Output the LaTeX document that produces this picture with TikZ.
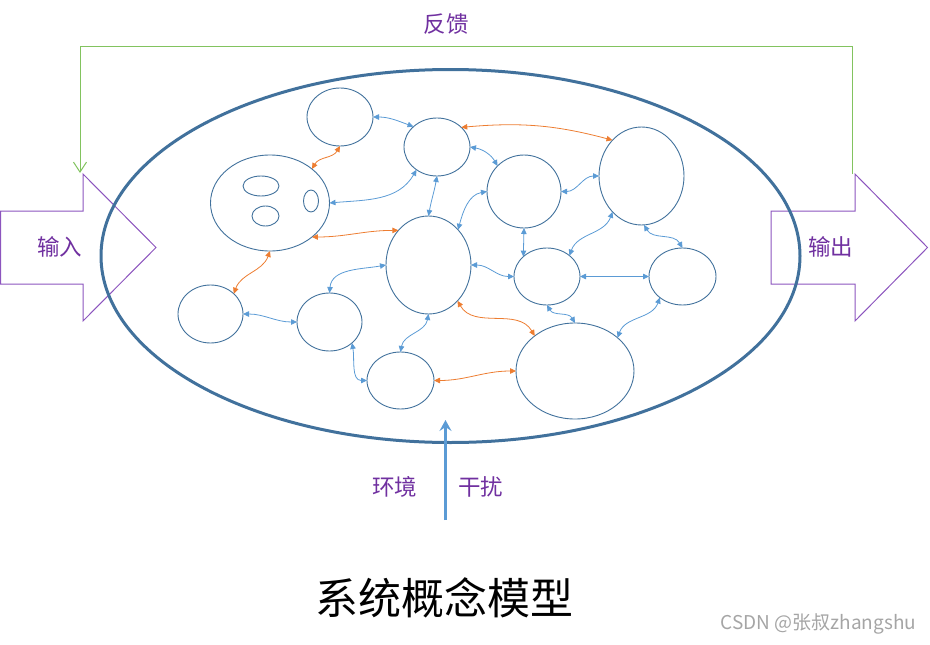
\documentclass[tikz,border=0pt]{standalone}
\usepackage{fontspec}
\newfontfamily\cjk{Noto Sans CJK SC}
\usetikzlibrary{shapes.geometric,arrows.meta}
\definecolor{bord}{RGB}{65,113,156}
\definecolor{cblue}{RGB}{91,155,213}
\definecolor{corange}{RGB}{237,125,49}
\definecolor{lblpurple}{RGB}{112,48,160}
\definecolor{arrpurple}{RGB}{140,85,190}
\definecolor{fbgreen}{RGB}{130,195,95}
\definecolor{wmgray}{RGB}{165,165,165}
\begin{document}
\begin{tikzpicture}[x=1pt,y=-1pt,
  circ/.style={ellipse,draw=bord,line width=0.9pt,inner sep=0pt,outer sep=0pt},
  lnkb/.style={draw=cblue,line width=0.8pt,{Triangle[length=6pt,width=5.5pt]}-{Triangle[length=6pt,width=5.5pt]}},
  lnko/.style={draw=corange,line width=0.8pt,{Triangle[length=6pt,width=5.5pt]}-{Triangle[length=6pt,width=5.5pt]}},
  lbl/.style={font=\cjk\fontsize{22.5}{22.5}\selectfont,text=lblpurple,inner sep=0pt},
  blockarrow/.style={draw=arrpurple,line width=1pt,line join=miter},
]
\useasboundingbox (0,0) rectangle (930,645);
% block arrows
\draw[blockarrow] (0.6,211) -- (83,211) -- (83,174) -- (156,247.5) -- (83,321) -- (83,284) -- (0.6,284) -- cycle;
\draw[blockarrow] (771,211) -- (855,211) -- (855,174) -- (927.5,247.5) -- (855,321) -- (855,284) -- (771,284) -- cycle;
% system boundary
\node[ellipse,draw=bord,line width=3pt,minimum width=699pt,minimum height=373pt,inner sep=0pt] (sys) at (450.5,256) {};
% feedback
\coordinate (fbS) at (852,174);
\coordinate (fbE) at (80,173);
\draw[fbgreen,line width=1pt,-{Straight Barb[length=10pt,width=13pt]}] (fbS) -- ++(0,-128) -| (fbE);
% labels
\node[lbl] (fbl) at (446,24) {反馈};
\node[lbl] (inl) at (59.5,247) {输入};
\node[lbl] (outl) at (830.5,247) {输出};
\node[lbl] (envl) at (394.5,487) {环境};
\node[lbl] (disl) at (480.5,487) {干扰};
% environment arrow
\coordinate (envS) at (445.5,520);
\coordinate (envE) at (445.5,420);
\draw[cblue,line width=2.5pt,-{Stealth[length=11pt,width=12pt,inset=4pt]}] (envS) -- (envE);
% elements
\node[circ,minimum width=66pt,minimum height=58pt] (A) at (340,117) {};
\node[circ,minimum width=66pt,minimum height=58pt] (B) at (437,147) {};
\node[circ,minimum width=119pt,minimum height=96pt] (C) at (270,203) {};
\node[circ,minimum width=36pt,minimum height=20pt] (c1) at (261,186) {};
\node[circ,minimum width=27pt,minimum height=20pt] (c2) at (265.5,216) {};
\node[circ,minimum width=15pt,minimum height=22pt] (c3) at (311,201) {};
\node[circ,minimum width=85pt,minimum height=98pt] (D) at (428.5,265) {};
\node[circ,minimum width=74pt,minimum height=73pt] (E) at (524,191.5) {};
\node[circ,minimum width=85pt,minimum height=98pt] (F) at (641.5,176) {};
\node[circ,minimum width=66pt,minimum height=57pt] (G) at (547,276.5) {};
\node[circ,minimum width=67pt,minimum height=57pt] (H) at (682.5,276.5) {};
\node[circ,minimum width=65pt,minimum height=58pt] (I) at (210.5,314) {};
\node[circ,minimum width=65pt,minimum height=58pt] (J) at (329.5,322) {};
\node[circ,minimum width=67pt,minimum height=57pt] (K) at (400.5,380.5) {};
\node[circ,minimum width=118pt,minimum height=96pt] (L) at (575,371) {};
% connectors
\draw[lnkb] (A.0) to[out=0,in=160] (B.139);
\draw[lnko] (A.-90) to[out=-120,in=60] (C.39);
\draw[lnkb] (B.228) to[out=-120,in=5] (C.0);
\draw[lnkb] (B.-90) to[out=-100,in=80] (D.90);
\draw[lnko] (C.-39) to[out=0,in=180] (D.131);
\draw[lnko] (C.-90) to[out=-110,in=70] (I.41);
\draw[lnko] (B.39) to[out=5,in=165] (F.129);
\draw[lnkb] (B.0) to[out=-10,in=120] (E.136);
\draw[lnkb] (E.180) to[out=190,in=75] (D.50);
\draw[lnkb] (E.0) to[out=0,in=180] (F.180);
\draw[lnkb] (E.-90) -- (G.140);
\draw[lnkb] (F.231) to[out=-110,in=70] (G.43);
\draw[lnkb] (F.-87) to[out=-60,in=120] (H.90);
\draw[lnkb] (D.0) to[out=0,in=180] (G.180);
\draw[lnkb] (G.0) -- (H.180);
\draw[lnkb] (G.-90) to[out=-60,in=120] (L.90);
\draw[lnkb] (H.223) to[out=-110,in=70] (L.38);
\draw[lnko] (D.-51) to[out=-60,in=120] (L.139);
\draw[lnko] (K.0) to[out=0,in=180] (L.180);
\draw[lnkb] (D.-90) to[out=-100,in=80] (K.90);
\draw[lnkb] (D.180) to[out=190,in=85] (J.90);
\draw[lnkb] (J.-43) to[out=-80,in=180] (K.180);
\draw[lnkb] (I.0) to[out=0,in=180] (J.180);
% title and watermark
\node[font=\cjk\fontsize{43}{43}\selectfont,inner sep=0pt] (title) at (444.5,598) {系统概念模型};
\node[font=\cjk\fontsize{19}{19}\selectfont,text=wmgray,inner sep=0pt] (wm) at (818.5,624) {CSDN @张叔zhangshu};
\end{tikzpicture}
\end{document}
